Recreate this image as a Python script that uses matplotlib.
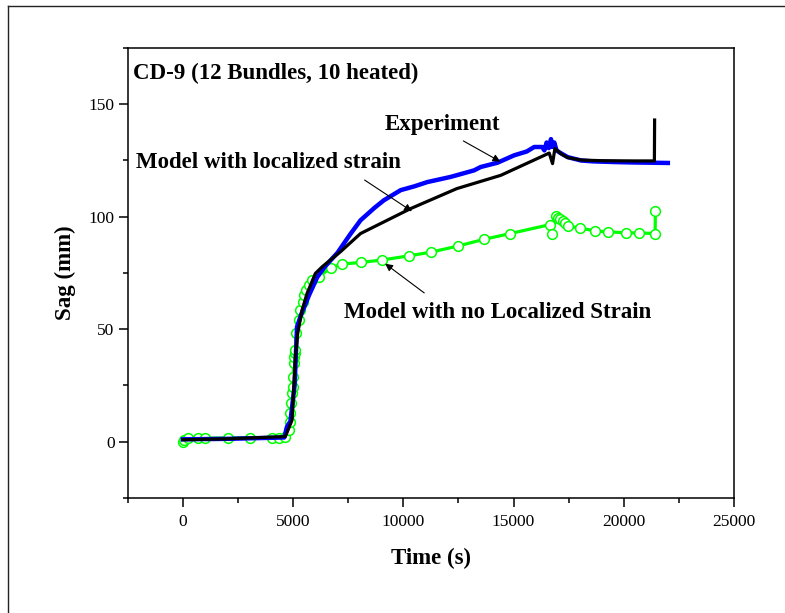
import numpy as np
import matplotlib.pyplot as plt
from matplotlib.lines import Line2D
from matplotlib.ticker import MultipleLocator

plt.rcParams['font.family'] = ['Liberation Serif', 'DejaVu Serif']

# Experiment (blue)
expTime = [0, 2000, 4600, 4730, 4880, 5070, 5180, 5350, 5720, 6090, 6460,
           7020, 7300, 7580, 8060, 8700, 9120, 9880, 10500, 11090, 12150,
           13210, 13510, 14270, 15030, 15600, 15940, 16300, 16400, 16500,
           16600, 16700, 16750, 16850, 16950, 17100, 17455, 18060, 18600,
           19570, 20500, 22000]
expSag = [1.0, 1.2, 1.8, 6.7, 9.0, 25, 51, 56, 65, 73, 78,
          84, 88, 92, 98.4, 104, 107.3, 111.8, 113.5, 115.4, 117.7,
          120.6, 122.1, 124, 127.3, 129, 131, 131, 129.5, 133,
          130.5, 134.5, 131, 133, 129.5, 128.5, 126.5, 125, 124.6,
          124.3, 124.1, 123.9]

# Model with localized strain (black)
locTime = [0, 2000, 4650, 4955, 5027, 5105, 5209, 5409, 5636, 6014, 6318,
           7150, 8059, 10332, 12430, 14423, 16620, 16770, 16877, 17150,
           17455, 18060, 19000, 20500, 21390, 21400]
locSag = [0.8, 1.2, 2.2, 9.6, 23, 37.7, 48, 58.5, 65.9, 74.8, 77.7,
          84.4, 92.5, 103.6, 112.5, 118.4, 128.3, 123.6, 130.3, 128,
          126.3, 125.2, 124.9, 124.8, 124.8, 143]

# Model with no localized strain (green)
noLocTime = [0, 50, 255, 709, 1014, 2045, 3059, 4045, 4348, 4650, 4800,
             4845, 4877, 4909, 4955, 4982, 5000, 5027, 5059, 5073, 5105,
             5150, 5255, 5332, 5436, 5514, 5591, 5709, 5864, 6164, 6727,
             7227, 8091, 9014, 10255, 11241, 12500, 13650, 14845, 16664,
             16741, 16923, 17027, 17118, 17227, 17332, 17482, 18027, 18709,
             19286, 20118, 20709, 21423, 21436]
noLocSag = [0.0, 0.8, 1.5, 1.5, 1.5, 1.6, 1.6, 1.7, 1.7, 1.8, 5.2,
            8.9, 12.6, 17, 21.5, 24.4, 28.9, 34.8, 37.7, 39.3, 40.7,
            48.1, 54, 58.5, 62.2, 65.1, 67.4, 69.6, 71.8, 73.3, 77.3,
            78.9, 79.7, 80.7, 82.6, 84.2, 87, 89.9, 92.5, 96.5,
            92.2, 100.2, 99.5, 98.8, 98, 97.2, 95.8, 95, 93.6,
            93.3, 92.8, 92.8, 92.5, 102.6]

fig = plt.figure(figsize=(7.85, 6.13), dpi=100)
ax = fig.add_axes([0.1627, 0.188, 0.7723, 0.7336])

# outer frame, only left and top edges fall inside the picture
fx = 7.5 / 785
fy = 1 - 5.5 / 613
fig.add_artist(Line2D([fx, fx], [0, fy], transform=fig.transFigure,
                      color='#222222', lw=1.0))
fig.add_artist(Line2D([fx, 1], [fy, fy], transform=fig.transFigure,
                      color='#222222', lw=1.0))

ax.plot(noLocTime, noLocSag, '-', color='#00ff00', lw=2.3, zorder=2,
        marker='o', ms=7, mfc='white', mec='#00ff00', mew=1.1)
ax.plot(expTime, expSag, '-', color='#0000ff', lw=3.2, zorder=3)
ax.plot(locTime, locSag, '-', color='black', lw=2.3, zorder=4)

ax.set_xlim(-2500, 25000)
ax.set_ylim(-25, 175)
ax.xaxis.set_major_locator(MultipleLocator(5000))
ax.xaxis.set_minor_locator(MultipleLocator(2500))
ax.yaxis.set_major_locator(MultipleLocator(50))
ax.yaxis.set_minor_locator(MultipleLocator(25))
ax.tick_params(which='both', direction='out', top=False, right=False,
               width=1.1, labelsize=12.5)
ax.tick_params(which='major', length=6.5)
ax.tick_params(which='minor', length=3.6)
ax.tick_params(axis='x', pad=5)
ax.tick_params(axis='y', pad=3)
for sp in ax.spines.values():
    sp.set_linewidth(1.1)

ax.set_xlabel('Time (s)', fontsize=16.5, fontweight='bold', labelpad=13)
ax.set_ylabel('Sag (mm)', fontsize=16.5, fontweight='bold', labelpad=9)

ax.text(-2259, 163.7, 'CD-9 (12 Bundles, 10 heated)', fontsize=16.5,
        fontweight='bold', ha='left', va='center')

arrow = dict(arrowstyle='-|>', color='black', lw=0.8, mutation_scale=11,
             shrinkA=0, shrinkB=0)
ax.annotate('', xy=(14400, 124.5), xytext=(12723, 133.7), arrowprops=arrow)
ax.text(9177, 141.1, 'Experiment', fontsize=16.5, fontweight='bold',
        ha='left', va='center')
ax.annotate('', xy=(10391, 102.4), xytext=(8245, 116.3), arrowprops=arrow)
ax.text(-2141, 124, 'Model with localized strain', fontsize=16.5,
        fontweight='bold', ha='left', va='center')
ax.annotate('', xy=(9177, 79.1), xytext=(10950, 66.1), arrowprops=arrow)
ax.text(7314, 57.5, 'Model with no Localized Strain', fontsize=16.5,
        fontweight='bold', ha='left', va='center')

fig.savefig('out.png', dpi=100)
